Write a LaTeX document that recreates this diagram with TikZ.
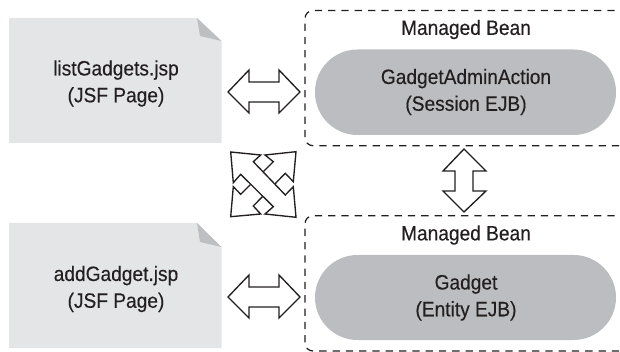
\documentclass[tikz,border=0pt]{standalone}
\usepackage{fontspec}
\setmainfont[FakeStretch=0.92,FakeBold=0.3]{Liberation Sans}
\definecolor{docgray}{RGB}{228,229,231}
\definecolor{foldgray}{RGB}{190,191,194}
\definecolor{pillgray}{RGB}{188,189,192}
\definecolor{inkc}{RGB}{35,31,32}
\tikzset{x=1pt,y=-1pt,
 lab/.style={align=center,font=\fontsize{20.8}{26.8}\selectfont,text=inkc,inner sep=0pt},
 doc/.style={fill=docgray,draw=none},
 fold/.style={fill=foldgray,draw=none},
 pill/.style={fill=pillgray,draw=none,rounded corners=42.5pt},
 bean/.style={draw=inkc,line width=1.25pt,dash pattern=on 7.3pt off 6pt,rounded corners=8pt},
 arr/.style={draw=inkc,line width=1.35pt,fill=white,line join=miter}}
\begin{document}
\begin{tikzpicture}
\useasboundingbox (0,0) rectangle (620,352);
% documents
\fill[doc] (9,18) -- (197,18) -- (221.5,41) -- (221.5,143) -- (9,143) -- cycle;
\fill[fold] (197,18) -- (221.5,41) -- (200,36) -- cycle;
\fill[doc] (9,223) -- (197,223) -- (221.5,247) -- (221.5,348) -- (9,348) -- cycle;
\fill[fold] (197,223) -- (221.5,247) -- (200,242) -- cycle;
\node[lab] (d1) at (116,83.5) {listGadgets.jsp\\(JSF Page)};
\node[lab] (d2) at (116,289) {addGadget.jsp\\(JSF Page)};
% beans
\draw[bean] (628,10.5) -- (305,10.5) -- (305,145.7) -- (628,145.7);
\draw[bean] (628,215.7) -- (305,215.7) -- (305,351) -- (628,351);
\fill[pill] (315,49.5) rectangle (616,135);
\fill[pill] (315,255) rectangle (616,340);
\node[lab] (b1) at (466,29.5) {Managed Bean};
\node[lab] (b2) at (466,235) {Managed Bean};
\node[lab] (p1) at (466,92) {GadgetAdminAction\\(Session EJB)};
\node[lab] (p2) at (466,297.5) {Gadget\\(Entity EJB)};
% block arrows
\draw[arr] (228,92) -- (249,70) -- (249,82) -- (279,82) -- (279,70) -- (300,92) -- (279,113) -- (279,102) -- (249,102) -- (249,113) -- cycle;
\draw[arr] (228,297) -- (249,275) -- (249,287) -- (279,287) -- (279,275) -- (300,297) -- (279,318) -- (279,307) -- (249,307) -- (249,318) -- cycle;
\draw[arr] (464,149) -- (486,171) -- (473,171) -- (473,191) -- (486,191) -- (464,212) -- (443,191) -- (455,191) -- (455,171) -- (443,171) -- cycle;
% crossed arrows
\draw[arr] (296,151.7) -- (293.3,181.7) -- (285.3,173.3) -- (253.3,206) -- (260.7,214) -- (230.7,216.7) -- (233.3,186.7) -- (240.7,194.3) -- (273.3,161.7) -- (265,155) -- cycle;
\draw[arr] (230.7,152) -- (260.7,155) -- (253.3,161.7) -- (285.3,195) -- (293.3,186.7) -- (296,217.3) -- (265,214) -- (273.3,206.7) -- (240.7,174.3) -- (233.3,182.7) -- cycle;
\end{tikzpicture}
\end{document}
